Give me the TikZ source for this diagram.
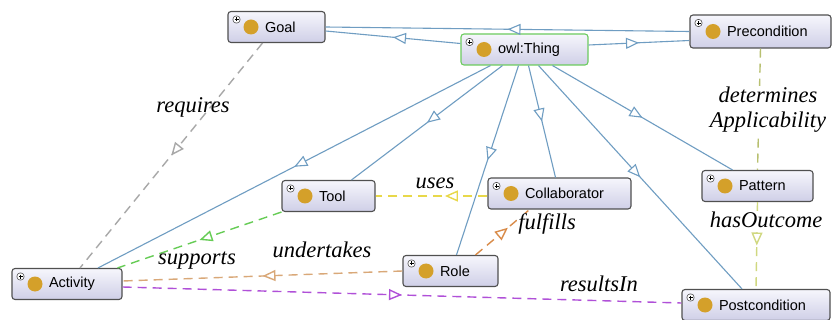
\documentclass[tikz,border=0pt]{standalone}
\usepackage{fontspec}
\setmainfont{Liberation Serif}
\setsansfont{Liberation Sans}
\usepackage{tikz}
\usetikzlibrary{arrows.meta,positioning,calc,decorations.markings}

\definecolor{boxtop}{HTML}{F6F6FC}
\definecolor{boxbot}{HTML}{CFCFE7}
\definecolor{boxln}{HTML}{505050}
\definecolor{thingln}{HTML}{6CCB5F}
\definecolor{dotc}{HTML}{D4A02A}
\definecolor{isac}{HTML}{6F9DC2}
\definecolor{reqc}{HTML}{A8A8A8}
\definecolor{supc}{HTML}{66CC55}
\definecolor{undc}{HTML}{D9A878}
\definecolor{fulc}{HTML}{D98C4A}
\definecolor{resc}{HTML}{B050D8}
\definecolor{usec}{HTML}{E8D84A}
\definecolor{detc}{HTML}{B8C070}
\definecolor{hasc}{HTML}{D0D880}

\begin{document}
\begin{tikzpicture}[x=1pt, y=-1pt,
    cls/.style={rectangle, rounded corners=3pt, draw=boxln, line width=1.1pt, top color=boxtop, bottom color=boxbot,
        minimum height=31pt, inner xsep=0pt, inner ysep=0pt, text width=#1, align=left,
        font=\sffamily\fontsize{14.5}{16}\selectfont, execute at begin node={\hspace*{37pt}},
        path picture={
            \fill[dotc] ([xshift=23pt]path picture bounding box.west) circle (7.5pt);
            \draw[boxln, line width=0.6pt, fill=white] ([xshift=5pt,yshift=-4.5pt]path picture bounding box.north west) rectangle ++(7pt,-7pt);
            \draw[black, line width=0.7pt] ([xshift=6.5pt,yshift=-8pt]path picture bounding box.north west) -- ++(4pt,0pt)
                ([xshift=8.5pt,yshift=-6pt]path picture bounding box.north west) -- ++(0pt,-4pt);
        }},
    midtip/.style={postaction={decorate}, decoration={markings, mark=at position #1 with {\arrow{Triangle[open, fill=white, length=13pt, width=11pt]}}}},
    isa/.style={draw=isac, line width=1.1pt, midtip=0.5},
    rel/.style={draw=#1, line width=1.4pt, dash pattern=on 9pt off 6pt},
    lbl/.style={font=\itshape\fontsize{22.5}{25}\selectfont, anchor=base, inner sep=1pt}
]
\path[use as bounding box, fill=white] (0,0) rectangle (832,320);

\node[cls=97pt] (goal) at (276.5,27) {Goal};
\node[cls=127pt, draw=thingln] (thing) at (524.5,49.5) {owl:Thing};
\node[cls=141pt, minimum height=33pt] (pre) at (760.5,31.5) {Precondition};
\node[cls=93pt] (tool) at (328.5,196) {Tool};
\node[cls=143pt] (collab) at (559.5,193.5) {Collaborator};
\node[cls=111pt] (pattern) at (757.5,186) {Pattern};
\node[cls=95pt] (role) at (450.5,271) {Role};
\node[cls=110pt] (activity) at (67,284) {Activity};
\node[cls=148pt] (post) at (756,305) {Postcondition};

\draw[isa] ([yshift=6pt]thing.west) -- ([yshift=-4pt]goal.east);
\draw[isa] (pre.west) -- (goal.east);
\draw[isa] ([yshift=4.5pt]thing.east) -- ([yshift=-9pt]pre.west);
\draw[isa] ([xshift=-34pt]thing.south) -- ([xshift=31pt]activity.north);
\draw[isa] ([xshift=-22pt]thing.south) -- ([xshift=23pt]tool.north);
\draw[isa] ([xshift=-6pt]thing.south) -- ([xshift=6pt]role.north);
\draw[isa] ([xshift=4pt]thing.south) -- ([xshift=-4pt]collab.north);
\draw[isa] ([xshift=14pt]thing.south) -- ([xshift=-14pt]post.north);
\draw[isa] ([xshift=28pt]thing.south) -- ([xshift=-25pt]pattern.north);

\draw[rel=reqc, midtip=0.5] ([xshift=-14pt]goal.south) -- ([xshift=13pt]activity.north);
\draw[rel=supc, midtip=0.5] (tool.south west) -- ([xshift=-5pt]activity.north east);
\draw[rel=undc, midtip=0.5] (role.west) -- ([yshift=3pt]activity.east);
\draw[rel=resc, midtip=0.5] ([yshift=-3pt]activity.east) -- ([yshift=2pt]post.west);
\draw[rel=usec, midtip=0.38] ([yshift=-2.5pt]collab.west) -- (tool.east);
\draw[rel=fulc, midtip=0.6] ([xshift=25pt]role.north) -- ([xshift=-30pt]collab.south);
\draw[rel=detc, midtip=0.5] (pre.south) -- (pattern.north);
\draw[rel=hasc, midtip=0.5] (pattern.south) -- (post.north);

\node[lbl] (lreq) at (193,113) {requires};
\node[lbl] (lsup) at (197,265) {supports};
\node[lbl] (lund) at (322,258) {undertakes};
\node[lbl] (lres) at (599,291) {resultsIn};
\node[lbl] (luse) at (435,189) {uses};
\node[lbl, fill=white] (lful) at (547,230) {fulfills};
\node[lbl, fill=white] (lhas) at (766,228) {hasOutcome};
\node[lbl, fill=white, anchor=center, align=center] (ldet) at (768,110) {determines\\Applicability};
\end{tikzpicture}
\end{document}
